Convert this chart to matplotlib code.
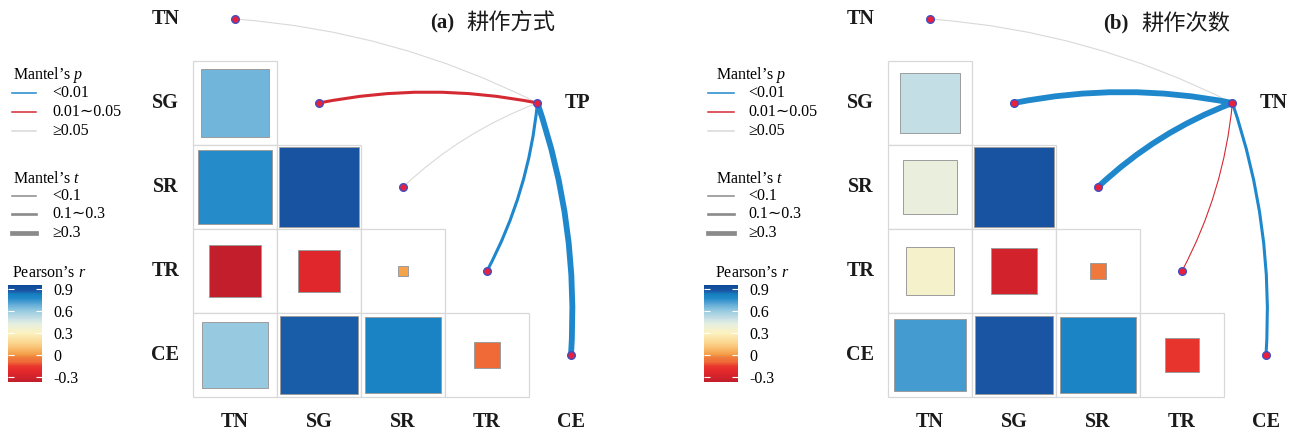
import numpy as np
import matplotlib
matplotlib.use('Agg')
import matplotlib.pyplot as plt
from matplotlib.patches import Rectangle, FancyArrowPatch
from matplotlib.colors import LinearSegmentedColormap, Normalize
from matplotlib.cm import ScalarMappable

plt.rcParams['font.family'] = ['Liberation Serif', 'Noto Sans CJK SC', 'DejaVu Sans']
plt.rcParams['mathtext.fontset'] = 'custom'
plt.rcParams['mathtext.rm'] = 'Liberation Serif'
plt.rcParams['mathtext.it'] = 'Liberation Serif:italic'

# data
variables = ['TN', 'SG', 'SR', 'TR', 'CE']
# Pearson's r, lower triangle (rows SG, SR, TR, CE)
r_a = [[0.66],
       [0.77, 0.89],
       [-0.37, -0.24, 0.014],
       [0.60, 0.87, 0.81, -0.10]]
r_b = [[0.50],
       [0.41, 0.89],
       [0.34, -0.30, -0.04],
       [0.73, 0.88, 0.80, -0.17]]
# Mantel test of hub vs TN, SG, SR, TR, CE
hub_a = 'TP'
p_a = [0.32, 0.03, 0.21, 0.004, 0.001]
t_a = [0.05, 0.18, 0.06, 0.22, 0.42]
hub_b = 'TN'
p_b = [0.41, 0.001, 0.002, 0.02, 0.006]
t_b = [0.04, 0.36, 0.33, 0.07, 0.20]

cbar_ticks = [0.9, 0.6, 0.3, 0, -0.3]
p_labels = ['<0.01', '0.01\u223c0.05', '\u22650.05']
t_labels = ['<0.1', '0.1\u223c0.3', '\u22650.3']

# colour scale
vmin, vmax = -0.37, 0.955
anchors = [(-0.37, '#c21e2c'), (-0.22, '#e5282c'), (-0.15, '#e83a2e'),
           (-0.10, '#f06a38'), (-0.04, '#ef7a3c'),
           (0.01, '#f4a04a'), (0.15, '#fbd38a'), (0.30, '#fbf2c0'),
           (0.42, '#e8efe0'), (0.50, '#c5dfe5'), (0.60, '#98cbe0'),
           (0.68, '#68afd8'), (0.78, '#2088c8'), (0.83, '#1580c0'),
           (0.88, '#1a55a3'), (0.955, '#0c4a98')]
cmap = LinearSegmentedColormap.from_list(
    'pr', [((v - vmin) / (vmax - vmin), c) for v, c in anchors])
norm = Normalize(vmin, vmax)

p_colors = ['#1f88cc', '#d42a34', '#d9d9d9']
t_widths = [0.8, 2.2, 4.2]
legend_t_widths = [1.1, 1.9, 3.4]

W, H = 1299, 437
CELL = 84
fig = plt.figure(figsize=(W / 100, H / 100), dpi=100)


def p_class(p):
    return 0 if p < 0.01 else (1 if p < 0.05 else 2)


def t_class(t):
    return 0 if t < 0.1 else (1 if t < 0.3 else 2)


def draw_panel(x0px, r, p, t, hub, tag, cn, tag_x, cn_x):
    xl = (-1.2, 4.9)
    yl = (4.976, -0.226)
    ax = fig.add_axes([(x0px + xl[0] * CELL) / W, 0,
                       (xl[1] - xl[0]) * CELL / W, 1])
    ax.set_xlim(*xl)
    ax.set_ylim(*yl)
    ax.axis('off')
    for i, row in enumerate(r):
        y = i + 1
        for j, v in enumerate(row):
            ax.add_patch(Rectangle((j - 0.5, y - 0.5), 1, 1, fc='white',
                                   ec='#d8d8d8', lw=0.9, zorder=1))
            s = np.sqrt(abs(v))
            ax.add_patch(Rectangle((j - s / 2, y - s / 2), s, s,
                                   fc=cmap(norm(v)), ec='#9c9c9c', lw=0.7,
                                   zorder=2))
    hx, hy = 3.6, 1.0
    rads = [0.1, 0.1, 0.1, -0.1, -0.1]
    for k in range(len(variables)):
        ci = p_class(p[k])
        wi = t_class(t[k])
        arc = FancyArrowPatch((hx, hy), (k, k), arrowstyle='-',
                              connectionstyle='arc3,rad=%g' % rads[k],
                              color=p_colors[ci], lw=t_widths[wi],
                              shrinkA=0, shrinkB=0,
                              zorder=4 if ci < 2 else 3)
        ax.add_patch(arc)
    dots = np.arange(len(variables))
    ax.plot(dots, dots, 'o', ms=5.5, mfc='#e8203c', mec='#3f4fc4', mew=1.0,
            zorder=6, ls='none')
    ax.plot([hx], [hy], 'o', ms=5.5, mfc='#e8203c', mec='#3f4fc4', mew=1.0,
            zorder=6)
    for k, name in enumerate(variables):
        ax.text(-0.83, k, name, ha='center', va='center', fontsize=14.5,
                fontweight='bold', color='#1a1a1a')
        ax.text(k, 4.8, name, ha='center', va='center', fontsize=14.5,
                fontweight='bold', color='#1a1a1a')
    ax.text(3.93, hy, hub, ha='left', va='center', fontsize=14.5,
            fontweight='bold', color='#1a1a1a')
    ax.text(tag_x, 0.05, tag, ha='left', va='center', fontsize=15,
            fontweight='bold', color='#1a1a1a')
    ax.text(cn_x, 0.05, cn, ha='left', va='center', fontsize=16,
            family='Noto Sans CJK SC', color='#1a1a1a')


def draw_legend(lax, lx0, lx1, tx, title_x, cb_x0, cb_x1):
    lax.text(title_x, 75, "Mantel\u2019s $p$", fontsize=11.5, va='center',
             ha='left')
    for k, y in enumerate([93, 112, 131]):
        lax.plot([lx0, lx1], [y, y], color=p_colors[k], lw=1.1)
        lax.text(tx, y, p_labels[k], fontsize=11.5, va='center', ha='left')
    lax.text(title_x, 179, "Mantel\u2019s $t$", fontsize=11.5, va='center',
             ha='left')
    for k, y in enumerate([196, 214, 233]):
        lax.plot([lx0, lx1], [y, y], color='#8a8a8a', lw=legend_t_widths[k])
        lax.text(tx, y, t_labels[k], fontsize=11.5, va='center', ha='left')
    lax.text(title_x - 1, 273, "Pearson\u2019s $r$", fontsize=11.5,
             va='center', ha='left')
    cax = fig.add_axes([cb_x0 / W, 1 - 382 / H, (cb_x1 - cb_x0) / W, 97 / H])
    cb = fig.colorbar(ScalarMappable(norm=norm, cmap=cmap), cax=cax)
    cb.outline.set_visible(False)
    cb.set_ticks(cbar_ticks)
    cb.set_ticklabels(['0.9', '0.6', '0.3', '0', '-0.3'])
    cax.tick_params(direction='in', color='white', length=4, width=0.8,
                    labelsize=11.5, pad=8, left=True, right=True)


lax = fig.add_axes([0, 0, 1, 1], zorder=-1)
lax.set_xlim(0, W)
lax.set_ylim(H, 0)
lax.axis('off')

draw_panel(235, r_a, p_a, t_a, hub_a, '(a)', '耕作方式', 2.32, 2.76)
draw_panel(930, r_b, p_b, t_b, hub_b, '(b)', '耕作次数', 2.06, 2.52)
draw_legend(lax, 12, 36, 52, 13, 8, 42)
draw_legend(lax, 708, 734, 748, 716, 704, 738)

fig.savefig('out.png', dpi=100)
